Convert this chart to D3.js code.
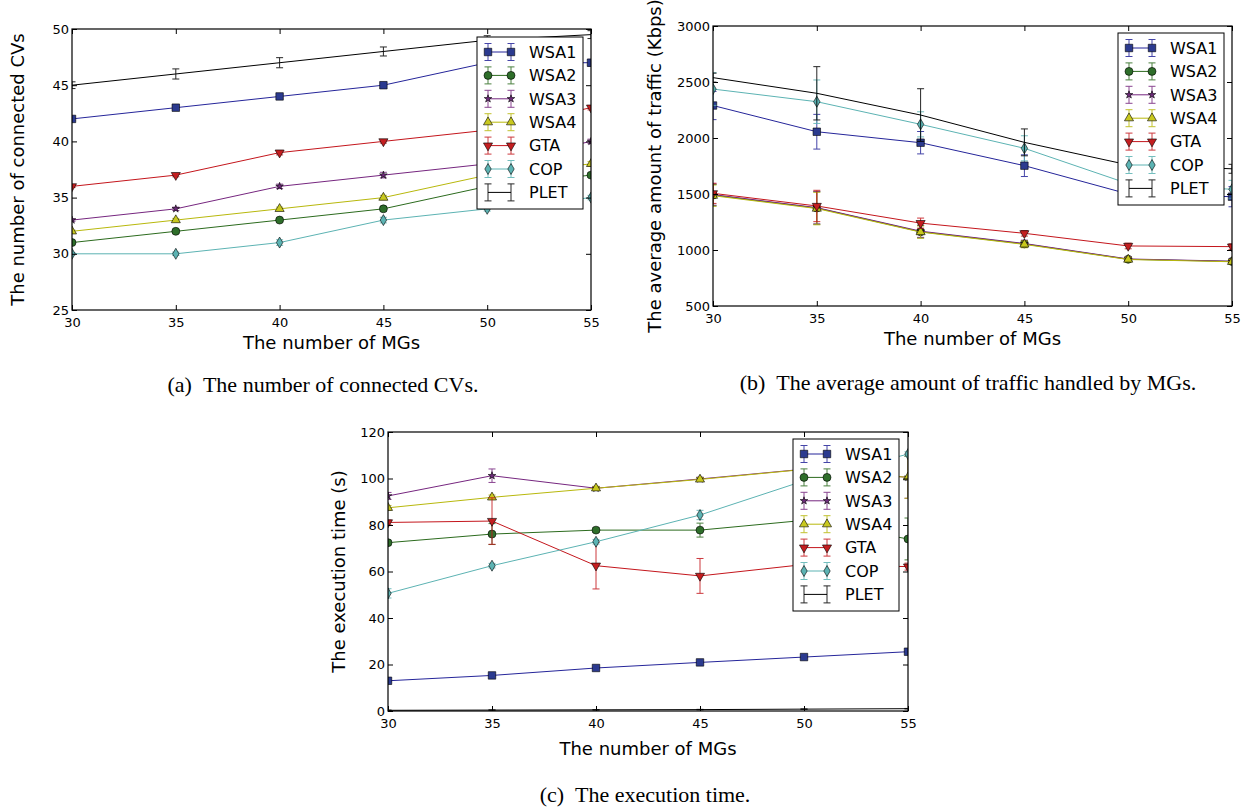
<!DOCTYPE html>
<html>
<head>
<meta charset="utf-8">
<script src="https://cdn.jsdelivr.net/npm/d3@7/dist/d3.min.js"></script>
<style>
  html, body { margin: 0; padding: 0; background: #fff; }
  svg { display: block; }
  text { font-family: "DejaVu Sans", sans-serif; fill: #000; }
  .caption { font-family: "Liberation Serif", "Times New Roman", serif; white-space: pre; }
</style>
</head>
<body>
<svg id="chart" width="1260" height="807"></svg>
<script>
// ---------------- DATA ----------------
const mgs = [30, 35, 40, 45, 50, 55];
const seriesNames = ["WSA1", "WSA2", "WSA3", "WSA4", "GTA", "COP", "PLET"];

// (a) number of connected CVs
const cvWSA1 = [42, 43, 44, 45, 47, 47];
const cvWSA2 = [31, 32, 33, 34, 36, 37];
const cvWSA3 = [33, 34, 36, 37, 38, 40];
const cvWSA4 = [32, 33, 34, 35, 37, 38];
const cvGTA  = [36, 37, 39, 40, 41, 43];
const cvCOP  = [30, 30, 31, 33, 34, 35];
const cvPLET = [45, 46, 47, 48, 49, 49.5];
const cvErrWSA1 = [0.15, 0.15, 0.2, 0.25, 0.3, 0.3];
const cvErrWSA2 = [0.1, 0.15, 0.15, 0.2, 0.2, 0.2];
const cvErrWSA3 = [0.1, 0.15, 0.2, 0.25, 0.2, 0.2];
const cvErrWSA4 = [0.1, 0.15, 0.15, 0.2, 0.2, 0.2];
const cvErrGTA  = [0.1, 0.15, 0.2, 0.15, 0.2, 0.2];
const cvErrCOP  = [0.1, 0.15, 0.25, 0.25, 0.2, 0.2];
const cvErrPLET = [0.3, 0.45, 0.45, 0.4, 0.4, 0.35];
const cvTicks = [25, 30, 35, 40, 45, 50];

// (b) average amount of traffic handled by MGs (Kbps)
const trWSA1 = [2290, 2056, 1958, 1753, 1500, 1476];
const trWSA2 = [1490, 1375, 1163, 1054, 917, 898];
const trWSA3 = [1495, 1378, 1168, 1058, 920, 900];
const trWSA4 = [1485, 1370, 1160, 1050, 915, 895];
const trGTA  = [1506, 1393, 1240, 1149, 1036, 1030];
const trCOP  = [2437, 2324, 2122, 1908, 1592, 1542];
const trPLET = [2539, 2399, 2205, 1961, 1760, 1725];
const trErrWSA1 = [126, 155, 100, 97, 90, 90];
const trErrWSA2 = [95, 145, 55, 30, 20, 20];
const trErrWSA3 = [95, 145, 55, 30, 20, 20];
const trErrWSA4 = [95, 145, 55, 30, 20, 20];
const trErrGTA  = [90, 140, 45, 25, 25, 25];
const trErrCOP  = [146, 194, 112, 112, 100, 80];
const trErrPLET = [40, 238, 235, 120, 60, 40];
const trTicks = [500, 1000, 1500, 2000, 2500, 3000];

// (c) execution time (s)
const etWSA1 = [13.0, 15.3, 18.5, 20.9, 23.2, 25.5];
const etWSA2 = [72.4, 76.1, 77.8, 77.8, 82.0, 74.0];
const etWSA3 = [92.5, 101.2, 95.8, 99.8, 104.0, 100.5];
const etWSA4 = [87.4, 91.9, 95.8, 99.6, 103.9, 100.5];
const etGTA  = [81.1, 81.7, 62.5, 58.1, 63.0, 62.1];
const etCOP  = [50.6, 62.5, 72.8, 84.3, 99.0, 110.5];
const etPLET = [0.3, 0.4, 0.5, 0.6, 0.8, 1.0];
const etErrWSA1 = [0.3, 0.3, 0.3, 0.3, 0.3, 0.3];
const etErrWSA2 = [1.0, 4.5, 1.0, 3.0, 2.0, 9.0];
const etErrWSA3 = [1.5, 2.9, 0.8, 0.8, 1.0, 9.0];
const etErrWSA4 = [1.0, 1.0, 0.8, 0.8, 1.0, 9.0];
const etErrGTA  = [1.0, 10.0, 10.0, 7.5, 3.0, 1.5];
const etErrCOP  = [2.0, 1.0, 1.0, 2.0, 2.0, 1.0];
const etErrPLET = [0.1, 0.1, 0.1, 0.1, 0.1, 0.1];
const etTicks = [0, 20, 40, 60, 80, 100, 120];

// ---------------- STYLE ----------------
const lineColors = {
  WSA1: "#25259a", WSA2: "#2c6b1e", WSA3: "#76267f", WSA4: "#b8b80c",
  GTA: "#c4161c", COP: "#5cb3b3", PLET: "#000000"
};
const fillColors = {
  WSA1: "#2b3a8f", WSA2: "#2e6e2a", WSA3: "#6d2a7a", WSA4: "#c8c81e",
  GTA: "#c41e20", COP: "#5cb3b3", PLET: "none"
};
const markerType = {
  WSA1: "square", WSA2: "circle", WSA3: "star", WSA4: "triUp",
  GTA: "triDown", COP: "thinDiamond", PLET: "none"
};

function markerPath(type) {
  switch (type) {
    case "square": return d3.symbol(d3.symbolSquare, 56)();
    case "circle": return d3.symbol(d3.symbolCircle, 50)();
    case "star": return d3.symbol(d3.symbolStar, 18)();
    case "triUp": return d3.symbol(d3.symbolTriangle, 36)();
    case "triDown": return d3.symbol(d3.symbolTriangle, 36)();
    case "thinDiamond": return "M0,-5.5L3.2,0L0,5.5L-3.2,0Z";
    default: return null;
  }
}

const svg = d3.select("#chart");

function drawPanel(cfg) {
  const x = d3.scaleLinear().domain([30, 55]).range([cfg.left, cfg.right]);
  const y = d3.scaleLinear().domain(cfg.yDomain).range([cfg.bottom, cfg.top]);
  const g = svg.append("g");
  const clipId = "clip-" + cfg.id;
  svg.append("clipPath").attr("id", clipId).append("rect")
    .attr("x", cfg.left).attr("y", cfg.top)
    .attr("width", cfg.right - cfg.left).attr("height", cfg.bottom - cfg.top);

  const plot = g.append("g").attr("clip-path", `url(#${clipId})`);

  cfg.series.forEach(s => {
    const col = lineColors[s.name];
    const pts = mgs.map((m, i) => ({ m, v: s.values[i], e: s.errors[i] }));
    const sg = plot.append("g");
    sg.append("path")
      .attr("d", d3.line().x(d => x(d.m)).y(d => y(d.v))(pts))
      .attr("fill", "none").attr("stroke", col).attr("stroke-width", 1);
    const eb = sg.append("g").attr("stroke", col).attr("stroke-width", 1).attr("opacity", 0.85);
    pts.forEach(d => {
      const xx = x(d.m), ya = y(d.v - d.e), yb = y(d.v + d.e);
      eb.append("line").attr("x1", xx).attr("x2", xx).attr("y1", ya).attr("y2", yb);
      eb.append("line").attr("x1", xx - 3.5).attr("x2", xx + 3.5).attr("y1", ya).attr("y2", ya);
      eb.append("line").attr("x1", xx - 3.5).attr("x2", xx + 3.5).attr("y1", yb).attr("y2", yb);
    });
    const mp = markerPath(markerType[s.name]);
    if (mp) {
      sg.selectAll("path.mk").data(pts).join("path").attr("class", "mk")
        .attr("d", mp)
        .attr("transform", d => `translate(${x(d.m)},${y(d.v)})` + (markerType[s.name] === "triDown" ? " rotate(180)" : ""))
        .attr("fill", fillColors[s.name]).attr("stroke", "#000").attr("stroke-width", 0.6);
    }
  });

  g.append("rect").attr("x", cfg.left).attr("y", cfg.top)
    .attr("width", cfg.right - cfg.left).attr("height", cfg.bottom - cfg.top)
    .attr("fill", "none").attr("stroke", "#000").attr("stroke-width", 1.2);

  const tickLen = 5;
  const fmt = d3.format("d");
  const xb = g.append("g").attr("transform", `translate(0,${cfg.bottom})`)
    .call(d3.axisBottom(x).tickValues(mgs).tickSizeInner(-tickLen).tickSizeOuter(0).tickPadding(8).tickFormat(fmt));
  const xt = g.append("g").attr("transform", `translate(0,${cfg.top})`)
    .call(d3.axisTop(x).tickValues(mgs).tickSizeInner(-tickLen).tickSizeOuter(0).tickFormat(""));
  const yl = g.append("g").attr("transform", `translate(${cfg.left},0)`)
    .call(d3.axisLeft(y).tickValues(cfg.yTicks).tickSizeInner(-tickLen).tickSizeOuter(0).tickPadding(3).tickFormat(fmt));
  const yr = g.append("g").attr("transform", `translate(${cfg.right},0)`)
    .call(d3.axisRight(y).tickValues(cfg.yTicks).tickSizeInner(-tickLen).tickSizeOuter(0).tickFormat(""));
  [xb, xt, yl, yr].forEach(a => {
    a.select(".domain").remove();
    a.selectAll("line").attr("stroke", "#000");
    a.selectAll("text").attr("font-size", 13).attr("font-family", "DejaVu Sans").attr("fill", "#000");
  });

  g.append("text").attr("x", (cfg.left + cfg.right) / 2).attr("y", cfg.xLabelY)
    .attr("text-anchor", "middle").attr("font-size", 18).text("The number of MGs");
  g.append("text")
    .attr("transform", `translate(${cfg.yLabelX},${(cfg.top + cfg.bottom) / 2}) rotate(-90)`)
    .attr("text-anchor", "middle").attr("font-size", 18).text(cfg.yLabel);

  const L = cfg.legend;
  const lg = g.append("g");
  lg.append("rect").attr("x", L.x).attr("y", L.y).attr("width", 106).attr("height", 172)
    .attr("fill", "#fff").attr("stroke", "#000").attr("stroke-width", 1);
  cfg.series.forEach((s, i) => {
    const col = lineColors[s.name];
    const yy = L.y + 15 + i * 23.4;
    const xa = L.x + 11, xb2 = L.x + 34;
    const row = lg.append("g");
    row.append("line").attr("x1", xa).attr("x2", xb2).attr("y1", yy).attr("y2", yy)
      .attr("stroke", col).attr("stroke-width", 1);
    [xa, xb2].forEach(px => {
      const e = row.append("g").attr("stroke", col).attr("opacity", 0.85);
      e.append("line").attr("x1", px).attr("x2", px).attr("y1", yy - 8.5).attr("y2", yy + 8.5);
      e.append("line").attr("x1", px - 3.5).attr("x2", px + 3.5).attr("y1", yy - 8.5).attr("y2", yy - 8.5);
      e.append("line").attr("x1", px - 3.5).attr("x2", px + 3.5).attr("y1", yy + 8.5).attr("y2", yy + 8.5);
      const mp = markerPath(markerType[s.name]);
      if (mp) {
        row.append("path").attr("d", mp)
          .attr("transform", `translate(${px},${yy})` + (markerType[s.name] === "triDown" ? " rotate(180)" : ""))
          .attr("fill", fillColors[s.name]).attr("stroke", "#000").attr("stroke-width", 0.6);
      }
    });
    row.append("text").attr("x", L.x + 52).attr("y", yy).attr("dy", "0.36em")
      .attr("font-size", 16).text(s.name);
  });

  svg.append("text").attr("class", "caption").attr("x", cfg.capX).attr("y", cfg.capY)
    .attr("text-anchor", "middle").attr("font-size", 22)
    .attr("font-family", "Liberation Serif")
    .text(cfg.caption);
}

function mk(names, vals, errs) {
  return names.map((n, i) => ({ name: n, values: vals[i], errors: errs[i] }));
}

drawPanel({
  id: "a", left: 72, right: 591, top: 29, bottom: 310,
  yDomain: [25, 50], yTicks: cvTicks,
  series: mk(seriesNames,
    [cvWSA1, cvWSA2, cvWSA3, cvWSA4, cvGTA, cvCOP, cvPLET],
    [cvErrWSA1, cvErrWSA2, cvErrWSA3, cvErrWSA4, cvErrGTA, cvErrCOP, cvErrPLET]),
  yLabel: "The number of connected CVs", yLabelX: 24, xLabelY: 349,
  legend: { x: 477, y: 37 },
  caption: "(a)\u00a0\u00a0The number of connected CVs.", capX: 323, capY: 392
});

drawPanel({
  id: "b", left: 713, right: 1232, top: 26, bottom: 306,
  yDomain: [500, 3000], yTicks: trTicks,
  series: mk(seriesNames,
    [trWSA1, trWSA2, trWSA3, trWSA4, trGTA, trCOP, trPLET],
    [trErrWSA1, trErrWSA2, trErrWSA3, trErrWSA4, trErrGTA, trErrCOP, trErrPLET]),
  yLabel: "The average amount of traffic (Kbps)", yLabelX: 661, xLabelY: 345,
  legend: { x: 1118, y: 33 },
  caption: "(b)\u00a0\u00a0The average amount of traffic handled by MGs.", capX: 968, capY: 390
});

drawPanel({
  id: "c", left: 388, right: 908, top: 432, bottom: 711,
  yDomain: [0, 120], yTicks: etTicks,
  series: mk(seriesNames,
    [etWSA1, etWSA2, etWSA3, etWSA4, etGTA, etCOP, etPLET],
    [etErrWSA1, etErrWSA2, etErrWSA3, etErrWSA4, etErrGTA, etErrCOP, etErrPLET]),
  yLabel: "The execution time (s)", yLabelX: 345, xLabelY: 755,
  legend: { x: 793, y: 439 },
  caption: "(c)\u00a0\u00a0The execution time.", capX: 645, capY: 802
});
</script>
</body>
</html>
